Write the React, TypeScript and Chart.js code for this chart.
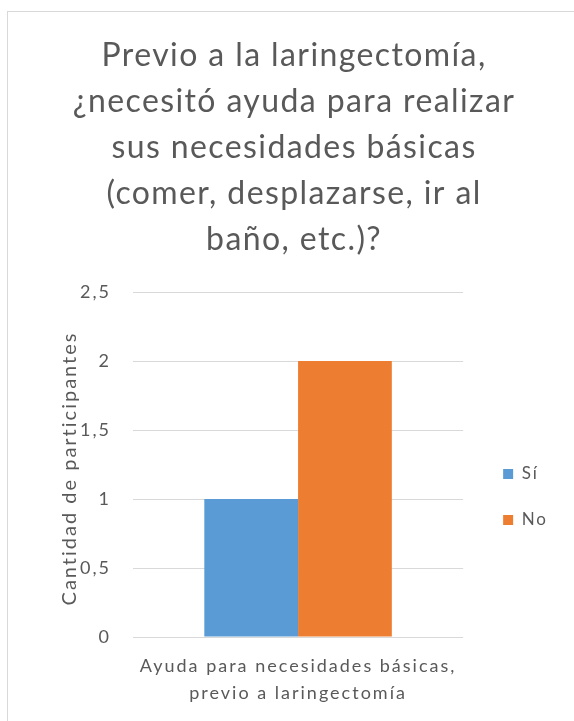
import React, { useEffect, useRef } from "react";
import { Chart, registerables } from "chart.js";

Chart.register(...registerables);

// ---- data ----
const TITLE_LINES = [
  "Previo a la laringectomía,",
  "¿necesitó ayuda para realizar",
  "sus necesidades básicas",
  "(comer, desplazarse, ir al",
  "baño, etc.)?",
];
const CATEGORIES = [["Ayuda para necesidades básicas,", "previo a laringectomía"]];
const SERIES_LABELS = ["Sí", "No"];
const SI_VALUES = [1];
const NO_VALUES = [2];
const Y_MIN = 0;
const Y_MAX = 2.5;
const Y_STEP = 0.5;
const Y_TITLE = "Cantidad de participantes";

// ---- style ----
const TEXT = "#595959";
const GRID = "#d9d9d9";
const BLUE = "#5b9bd5";
const ORANGE = "#ed7d31";
const FONT = "Lato, 'Open Sans', sans-serif";

const TEXT_SPACING = "2px";
const TITLE_SPACING = "1.4px";
const TITLE_SIZE = 32;
const TITLE_FIRST_BASELINE = 54;
const TITLE_LINE_GAP = 46;
const TITLE_DX = -4;
const YTITLE_SIZE = 20;
const YTITLE_SPACING = 2;
const YTITLE_GAP = 63.5; // offset from plot left edge used to place the axis title
const YTITLE_DY = 5;
const LEGEND_DX = 11;
const LEGEND_DY = -10;

export default function App() {
  const ref = useRef<HTMLCanvasElement>(null);

  useEffect(() => {
    let chart: Chart | null = null;
    let cancelled = false;

    const spacingPlugin = {
      id: "textSpacing",
      beforeUpdate(c: any) {
        c.ctx.letterSpacing = TEXT_SPACING;
      },
      beforeDraw(c: any) {
        c.ctx.letterSpacing = TEXT_SPACING;
      },
    };

    const titlePlugin = {
      id: "multiTitle",
      afterDraw(c: any) {
        const { ctx, chartArea } = c;
        ctx.save();
        ctx.letterSpacing = TITLE_SPACING;
        ctx.font = `${TITLE_SIZE}px ${FONT}`;
        ctx.fillStyle = TEXT;
        ctx.textAlign = "center";
        ctx.textBaseline = "alphabetic";
        const cx = (chartArea.left + chartArea.right) / 2 + TITLE_DX;
        TITLE_LINES.forEach((line, i) => {
          ctx.fillText(line, cx, TITLE_FIRST_BASELINE + i * TITLE_LINE_GAP);
        });
        ctx.restore();

        // rotated y-axis title
        ctx.save();
        ctx.letterSpacing = `${YTITLE_SPACING}px`;
        ctx.font = `${YTITLE_SIZE}px ${FONT}`;
        ctx.fillStyle = TEXT;
        ctx.textAlign = "left";
        ctx.textBaseline = "middle";
        const w = ctx.measureText(Y_TITLE).width - YTITLE_SPACING;
        const tx = chartArea.left - YTITLE_GAP;
        const ty = (chartArea.top + chartArea.bottom) / 2 + YTITLE_DY;
        ctx.translate(tx, ty);
        ctx.rotate(-Math.PI / 2);
        ctx.fillText(Y_TITLE, -w / 2, 0);
        ctx.restore();
      },
    };

    const legendShift = {
      id: "legendShift",
      afterLayout(c: any) {
        const l = c.legend;
        if (!l) return;
        l.left += LEGEND_DX;
        l.right += LEGEND_DX;
        l.top += LEGEND_DY;
        l.bottom += LEGEND_DY;
      },
    };

    const build = () => {
      if (cancelled || !ref.current) return;
      chart = new Chart(ref.current, {
        type: "bar",
        data: {
          labels: CATEGORIES as any,
          datasets: [
            { label: SERIES_LABELS[0], data: SI_VALUES, backgroundColor: BLUE, borderWidth: 0 },
            { label: SERIES_LABELS[1], data: NO_VALUES, backgroundColor: ORANGE, borderWidth: 0 },
          ],
        },
        options: {
          responsive: false,
          animation: false,
          maintainAspectRatio: false,
          layout: { padding: { left: 30, top: 280, right: 27, bottom: 30 } },
          datasets: { bar: { categoryPercentage: 0.568, barPercentage: 1 } } as any,
          plugins: {
            title: { display: false },
            tooltip: { enabled: false },
            legend: {
              display: true,
              position: "right",
              labels: {
                boxWidth: 10,
                boxHeight: 10,
                padding: 29,
                color: TEXT,
                font: { family: FONT, size: 17 },
              },
            },
          },
          scales: {
            x: {
              grid: { display: false, drawTicks: false },
              border: { display: false },
              ticks: {
                color: TEXT,
                font: { family: FONT, size: 18, lineHeight: 1.5 },
                padding: 16,
                maxRotation: 0,
                autoSkip: false,
              },
              afterFit(scale: any) {
                scale.height = 85;
              },
            },
            y: {
              min: Y_MIN,
              max: Y_MAX,
              grid: { color: GRID, lineWidth: 1, drawTicks: false },
              border: { display: false },
              ticks: {
                stepSize: Y_STEP,
                color: TEXT,
                padding: 22,
                font: { family: FONT, size: 18 },
                callback: (v: any) => String(v).replace(".", ","),
              },
              title: { display: false },
              afterFit(scale: any) {
                scale.width = 95;
              },
            },
          },
        },
        plugins: [spacingPlugin, titlePlugin, legendShift],
      });
    };

    if ((document as any).fonts && (document as any).fonts.load) {
      Promise.all([
        (document as any).fonts.load(`17px Lato`),
        (document as any).fonts.load(`32px Lato`),
      ])
        .catch(() => null)
        .then(build);
    } else {
      build();
    }

    return () => {
      cancelled = true;
      if (chart) chart.destroy();
    };
  }, []);

  return (
    <div
      style={{
        position: "fixed",
        left: 7,
        top: 11,
        width: 620,
        height: 780,
        border: "1px solid #d9d9d9",
        background: "#ffffff",
        boxSizing: "content-box",
      }}
    >
      <canvas
        ref={ref}
        width={566}
        height={740}
        style={{ display: "block", width: 566, height: 740 }}
      />
    </div>
  );
}
